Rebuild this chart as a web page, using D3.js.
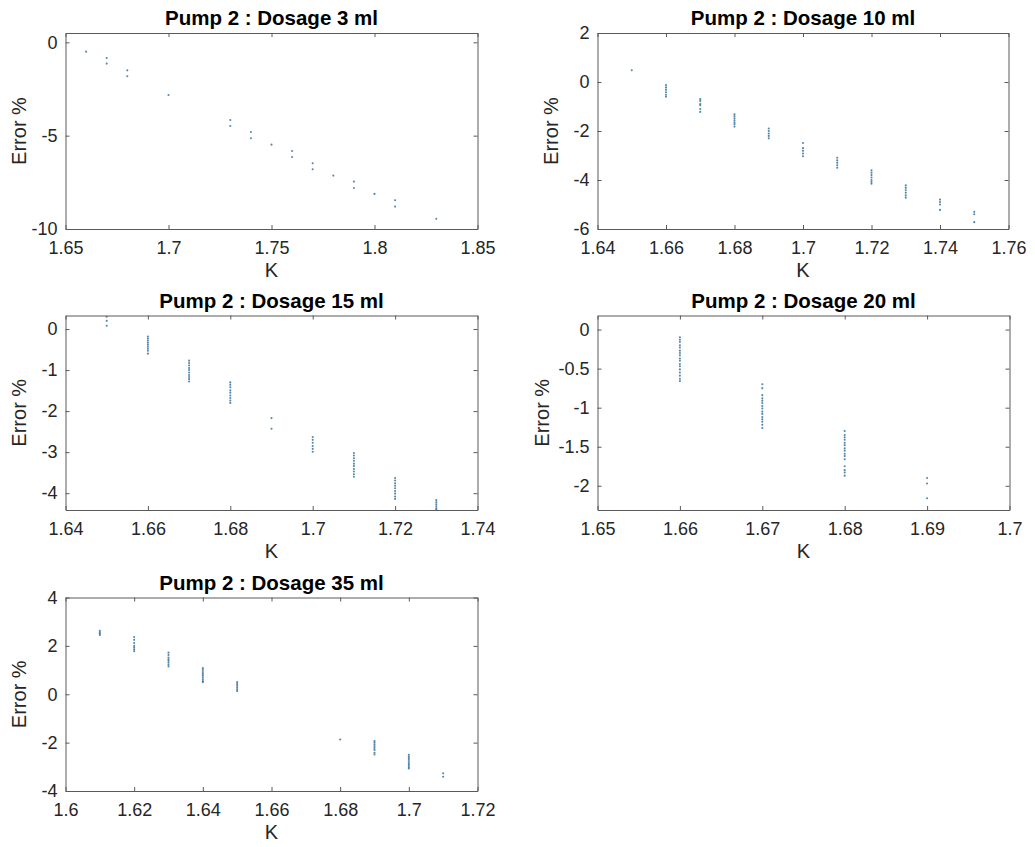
<!DOCTYPE html>
<html>
<head>
<meta charset="utf-8">
<script src="https://cdn.jsdelivr.net/npm/d3@7"></script>
<style>
  html, body { margin: 0; padding: 0; background: #fff; }
  svg { display: block; font-family: "Liberation Sans", Arial, Helvetica, sans-serif; }
</style>
</head>
<body>
<svg id="chart" width="1035" height="847"></svg>
<script>
// ---- Pump 2 calibration error vs K, one panel per dosage ----

// Dosage 3 ml
const kDose3 = [1.66, 1.67, 1.68, 1.70, 1.73, 1.74, 1.75, 1.76, 1.77, 1.78, 1.79, 1.80, 1.81, 1.83];
const errDose3 = [
  [-0.50], [-0.84, -1.14], [-1.50, -1.82], [-2.82], [-4.16, -4.48], [-4.80, -5.14], [-5.48],
  [-5.82, -6.14], [-6.48, -6.80], [-7.14], [-7.46, -7.80], [-8.12], [-8.46, -8.80], [-9.45]
];

// Dosage 10 ml
const kDose10 = [1.65, 1.66, 1.67, 1.68, 1.69, 1.70, 1.71, 1.72, 1.73, 1.74, 1.75];
const errDose10 = [
  [0.48],
  [-0.12, -0.22, -0.32, -0.42, -0.52, -0.60],
  [-0.70, -0.78, -0.90, -0.95, -1.10, -1.22],
  [-1.32, -1.40, -1.48, -1.56, -1.64, -1.72, -1.82],
  [-1.90, -2.00, -2.10, -2.20, -2.30],
  [-2.49, -2.70, -2.81, -2.92, -3.03],
  [-3.09, -3.20, -3.30, -3.40, -3.50],
  [-3.60, -3.70, -3.80, -3.90, -4.00, -4.08, -4.15],
  [-4.22, -4.32, -4.42, -4.52, -4.62, -4.72],
  [-4.80, -4.90, -5.00, -5.22],
  [-5.30, -5.40, -5.72]
];

// Dosage 15 ml
const kDose15 = [1.65, 1.66, 1.67, 1.68, 1.69, 1.70, 1.71, 1.72, 1.73];
const errDose15 = [
  [0.30, 0.20, 0.08],
  [-0.18, -0.23, -0.28, -0.33, -0.38, -0.43, -0.48, -0.53, -0.60],
  [-0.77, -0.83, -0.89, -0.95, -1.00, -1.06, -1.12, -1.17, -1.22, -1.28],
  [-1.30, -1.36, -1.42, -1.49, -1.55, -1.62, -1.68, -1.74, -1.80],
  [-2.17, -2.43],
  [-2.63, -2.70, -2.77, -2.85, -2.92, -2.99],
  [-3.02, -3.08, -3.15, -3.21, -3.28, -3.34, -3.41, -3.47, -3.54, -3.60],
  [-3.63, -3.69, -3.76, -3.82, -3.88, -3.95, -4.01, -4.08, -4.14],
  [-4.17, -4.22, -4.27, -4.32, -4.37, -4.40]
];

// Dosage 20 ml
const kDose20 = [1.66, 1.67, 1.68, 1.69];
const errDose20 = [
  [-0.10, -0.13, -0.16, -0.20, -0.23, -0.27, -0.30, -0.33, -0.37, -0.40, -0.44, -0.47, -0.51, -0.55, -0.59, -0.63, -0.66],
  [-0.70, -0.75, -0.84, -0.88, -0.91, -0.94, -0.98, -1.01, -1.05, -1.08, -1.12, -1.15, -1.18, -1.22, -1.26],
  [-1.30, -1.35, -1.38, -1.41, -1.45, -1.48, -1.52, -1.55, -1.59, -1.62, -1.66, -1.75, -1.80, -1.83, -1.87],
  [-1.90, -1.97, -2.16]
];

// Dosage 35 ml
const kDose35 = [1.61, 1.62, 1.63, 1.64, 1.65, 1.68, 1.69, 1.70, 1.71];
const errDose35 = [
  [2.62, 2.55, 2.50, 2.45],
  [2.37, 2.25, 2.12, 2.00, 1.92, 1.85, 1.78],
  [1.72, 1.62, 1.52, 1.45, 1.38, 1.30, 1.22, 1.15],
  [1.08, 1.00, 0.92, 0.85, 0.78, 0.70, 0.62, 0.55, 0.50],
  [0.50, 0.42, 0.35, 0.28, 0.20, 0.13],
  [-1.87],
  [-1.93, -2.00, -2.08, -2.15, -2.22, -2.30, -2.42, -2.49],
  [-2.50, -2.58, -2.65, -2.72, -2.80, -2.88, -2.95, -3.02, -3.07],
  [-3.27, -3.41]
];

// Axis limits and ticks
const titles = ["Pump 2 : Dosage 3 ml", "Pump 2 : Dosage 10 ml", "Pump 2 : Dosage 15 ml",
                "Pump 2 : Dosage 20 ml", "Pump 2 : Dosage 35 ml"];
const xLimits = [[1.65, 1.85], [1.64, 1.76], [1.64, 1.74], [1.65, 1.70], [1.60, 1.72]];
const yLimits = [[-10, 0.5], [-6, 2], [-4.41, 0.33], [-2.31, 0.18], [-4, 4]];
const xTicks = [
  [1.65, 1.70, 1.75, 1.80, 1.85],
  [1.64, 1.66, 1.68, 1.70, 1.72, 1.74, 1.76],
  [1.64, 1.66, 1.68, 1.70, 1.72, 1.74],
  [1.65, 1.66, 1.67, 1.68, 1.69, 1.70],
  [1.60, 1.62, 1.64, 1.66, 1.68, 1.70, 1.72]
];
const yTicks = [
  [-10, -5, 0],
  [-6, -4, -2, 0, 2],
  [-4, -3, -2, -1, 0],
  [-2, -1.5, -1, -0.5, 0],
  [-4, -2, 0, 2, 4]
];
const kSets = [kDose3, kDose10, kDose15, kDose20, kDose35];
const errSets = [errDose3, errDose10, errDose15, errDose20, errDose35];

// Panel boxes on the page (left, top, width, height, y-label offset)
const boxes = [
  { x: 65.5, y: 33,    w: 412, h: 196, lab: 40 },
  { x: 597.5, y: 33,   w: 411, h: 196, lab: 40 },
  { x: 65.5, y: 315.5, w: 412, h: 194.5, lab: 40 },
  { x: 597.5, y: 315.5, w: 412, h: 194.5, lab: 49 },
  { x: 65.5, y: 597.5, w: 412, h: 193.5, lab: 40 }
];

const svg = d3.select("#chart");
svg.append("rect").attr("width", 1035).attr("height", 847).attr("fill", "#fff");

const fmt = v => String(+v.toFixed(3));
const axisColor = "#5a5a5a";
const textColor = "#262626";
const tickLen = 4;

boxes.forEach((b, i) => {
  const g = svg.append("g").attr("transform", `translate(${b.x},${b.y})`);
  const x = d3.scaleLinear().domain(xLimits[i]).range([0, b.w]);
  const y = d3.scaleLinear().domain(yLimits[i]).range([b.h, 0]);

  // points
  const pts = [];
  kSets[i].forEach((k, j) => errSets[i][j].forEach(e => pts.push([k, e])));
  g.append("g").selectAll("circle").data(pts).join("circle")
    .attr("cx", d => x(d[0]))
    .attr("cy", d => y(d[1]))
    .attr("r", 1.05)
    .attr("fill", "#2a6a95")
    .attr("fill-opacity", 0.8);

  // axes with inward ticks on all four sides
  const styleAxis = sel => {
    sel.select(".domain").attr("stroke", axisColor).attr("stroke-width", 1);
    sel.selectAll(".tick line").attr("stroke", axisColor).attr("stroke-width", 1);
    sel.selectAll(".tick text").attr("fill", textColor).attr("font-size", 18);
  };
  const xb = g.append("g").attr("transform", `translate(0,${b.h})`)
    .call(d3.axisBottom(x).tickValues(xTicks[i]).tickFormat(fmt)
      .tickSizeInner(-tickLen).tickSizeOuter(0).tickPadding(12));
  styleAxis(xb);
  const xt = g.append("g")
    .call(d3.axisTop(x).tickValues(xTicks[i]).tickFormat("").tickSizeInner(-tickLen).tickSizeOuter(0));
  styleAxis(xt);
  const yl = g.append("g")
    .call(d3.axisLeft(y).tickValues(yTicks[i]).tickFormat(fmt)
      .tickSizeInner(-tickLen).tickSizeOuter(0).tickPadding(8));
  styleAxis(yl);
  const yr = g.append("g").attr("transform", `translate(${b.w},0)`)
    .call(d3.axisRight(y).tickValues(yTicks[i]).tickFormat("").tickSizeInner(-tickLen).tickSizeOuter(0));
  styleAxis(yr);

  // title
  g.append("text")
    .attr("x", b.w / 2).attr("y", -8)
    .attr("text-anchor", "middle")
    .attr("font-size", 20.5).attr("font-weight", "bold")
    .attr("fill", "#000")
    .text(titles[i]);

  // axis labels
  g.append("text")
    .attr("x", b.w / 2).attr("y", b.h + 48)
    .attr("text-anchor", "middle")
    .attr("font-size", 20).attr("fill", textColor)
    .text("K");
  g.append("text")
    .attr("transform", `translate(${-b.lab},${b.h / 2}) rotate(-90)`)
    .attr("text-anchor", "middle")
    .attr("font-size", 20).attr("fill", textColor)
    .text("Error %");
});
</script>
</body>
</html>
